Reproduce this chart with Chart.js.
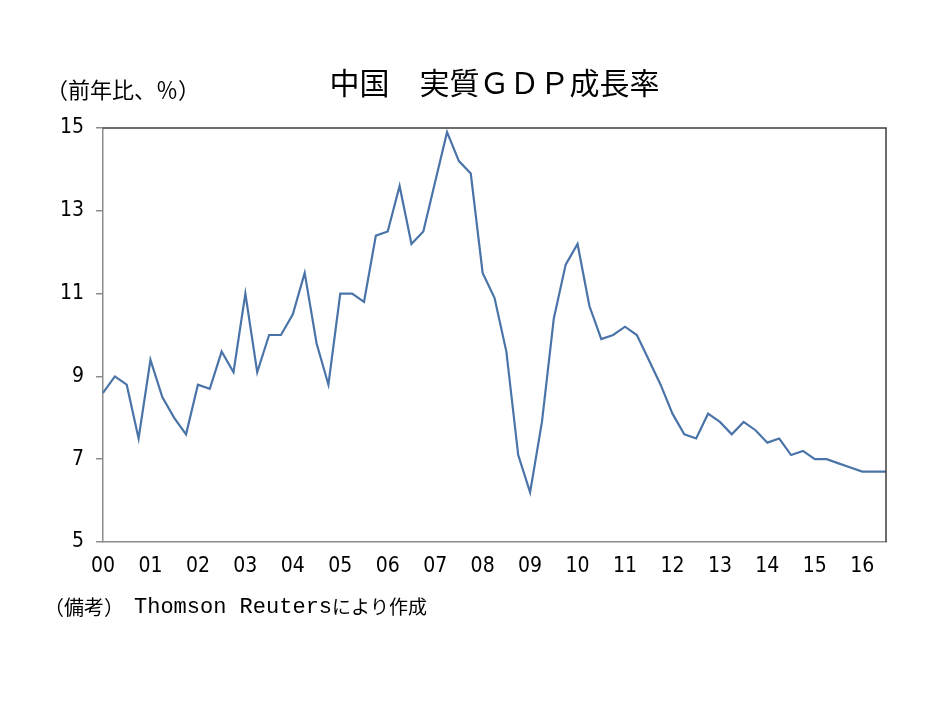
<!DOCTYPE html>
<html>
<head>
<meta charset="utf-8">
<script src="https://cdn.jsdelivr.net/npm/chart.js@4.4.1/dist/chart.umd.min.js"></script>
<style>
  html, body { margin: 0; padding: 0; background: #ffffff; }
  #wrap { position: relative; width: 934px; height: 701px; }
</style>
</head>
<body>
<div id="wrap"><canvas id="c"></canvas></div>
<script>
// ---- data ----
const titleText = '中国　実質ＧＤＰ成長率';
const unitText = '（前年比、％）';
const noteLead = '（備考）';
const noteSource = 'Thomson Reuters';
const noteTail = 'により作成';
const yearLabels = ['00','01','02','03','04','05','06','07','08','09','10','11','12','13','14','15','16'];
const quarterNames = ['Q1','Q2','Q3','Q4'];
const gdpGrowth = [
  8.6, 9.0, 8.8, 7.5,
  9.4, 8.5, 8.0, 7.6,
  8.8, 8.7, 9.6, 9.1,
  11.0, 9.1, 10.0, 10.0,
  10.5, 11.5, 9.8, 8.8,
  11.0, 11.0, 10.8, 12.4,
  12.5, 13.6, 12.2, 12.5,
  13.7, 14.9, 14.2, 13.9,
  11.5, 10.9, 9.6, 7.1,
  6.2, 7.9, 10.4, 11.7,
  12.2, 10.7, 9.9, 10.0,
  10.2, 10.0, 9.4, 8.8,
  8.1, 7.6, 7.5, 8.1,
  7.9, 7.6, 7.9, 7.7,
  7.4, 7.5, 7.1, 7.2,
  7.0, 7.0, 6.9, 6.8,
  6.7, 6.7, 6.7
];
const yMin = 5, yMax = 15, yStep = 2;

const quarters = [];
yearLabels.forEach(y => quarterNames.forEach(q => quarters.push(y + q)));
const categories = quarters.slice(0, gdpGrowth.length);

const tickFont = { family: '"Liberation Sans Narrow", "DejaVu Sans Condensed", "Arial Narrow", sans-serif', size: 21 };

const extraText = {
  id: 'extraText',
  afterDraw(chart) {
    const ctx = chart.ctx;
    const a = chart.chartArea;
    ctx.save();
    // frame (top and right)
    ctx.strokeStyle = '#3c3c3c';
    ctx.lineWidth = 1.5;
    ctx.beginPath();
    ctx.moveTo(a.left, a.top);
    ctx.lineTo(a.right, a.top);
    ctx.lineTo(a.right, a.bottom);
    ctx.stroke();
    ctx.fillStyle = '#000';
    ctx.textBaseline = 'middle';
    ctx.textAlign = 'left';
    // unit label
    ctx.font = '22px "Noto Sans CJK JP", sans-serif';
    ctx.fillText(unitText, 46, 90);
    // note
    const cjk = '20px "Noto Sans CJK JP", sans-serif';
    const mono = '22px "Liberation Mono", "DejaVu Sans Mono", monospace';
    let x = 44;
    ctx.font = cjk;
    ctx.fillText(noteLead, x, 607);
    x = 134;
    ctx.font = mono;
    ctx.fillText(noteSource, x, 607);
    x += ctx.measureText(noteSource).width;
    ctx.font = '19px "Noto Sans CJK JP", sans-serif';
    ctx.fillText(noteTail, x, 607);
    ctx.restore();
  }
};

new Chart(document.getElementById('c'), {
  type: 'line',
  data: {
    labels: categories,
    datasets: [{
      data: gdpGrowth,
      borderColor: '#4a74a8',
      borderWidth: 2.2,
      pointRadius: 0,
      tension: 0,
      fill: false
    }]
  },
  options: {
    responsive: true,
    maintainAspectRatio: false,
    animation: false,
    layout: { padding: { left: 0, right: 48, top: 0, bottom: 0 } },
    plugins: {
      legend: { display: false },
      tooltip: { enabled: false },
      title: {
        display: true,
        text: titleText,
        fullSize: false,
        color: '#000',
        font: { family: '"Noto Sans CJK JP", sans-serif', size: 30, weight: 'normal', lineHeight: 1.2 },
        padding: { top: 65, bottom: 27 }
      }
    },
    scales: {
      x: {
        type: 'category',
        offset: false,
        grid: { display: false, drawTicks: false },
        border: { display: true, color: '#8c8c8c', width: 1.5 },
        ticks: {
          autoSkip: false,
          maxRotation: 0,
          minRotation: 0,
          padding: 12,
          color: '#000',
          font: tickFont,
          callback: (v, i) => (i % 4 === 0 ? yearLabels[i / 4] : '')
        },
        afterFit: s => { s.height = 701 - 542; }
      },
      y: {
        min: yMin,
        max: yMax,
        grid: { display: true, drawOnChartArea: false, drawTicks: true, tickLength: 7, color: '#8c8c8c', lineWidth: 1.5 },
        border: { display: true, color: '#8c8c8c', width: 1.5 },
        ticks: { stepSize: yStep, padding: 12, color: '#000', font: tickFont },
        afterFit: s => { s.width = 103; }
      }
    }
  },
  plugins: [extraText]
});
</script>
</body>
</html>
